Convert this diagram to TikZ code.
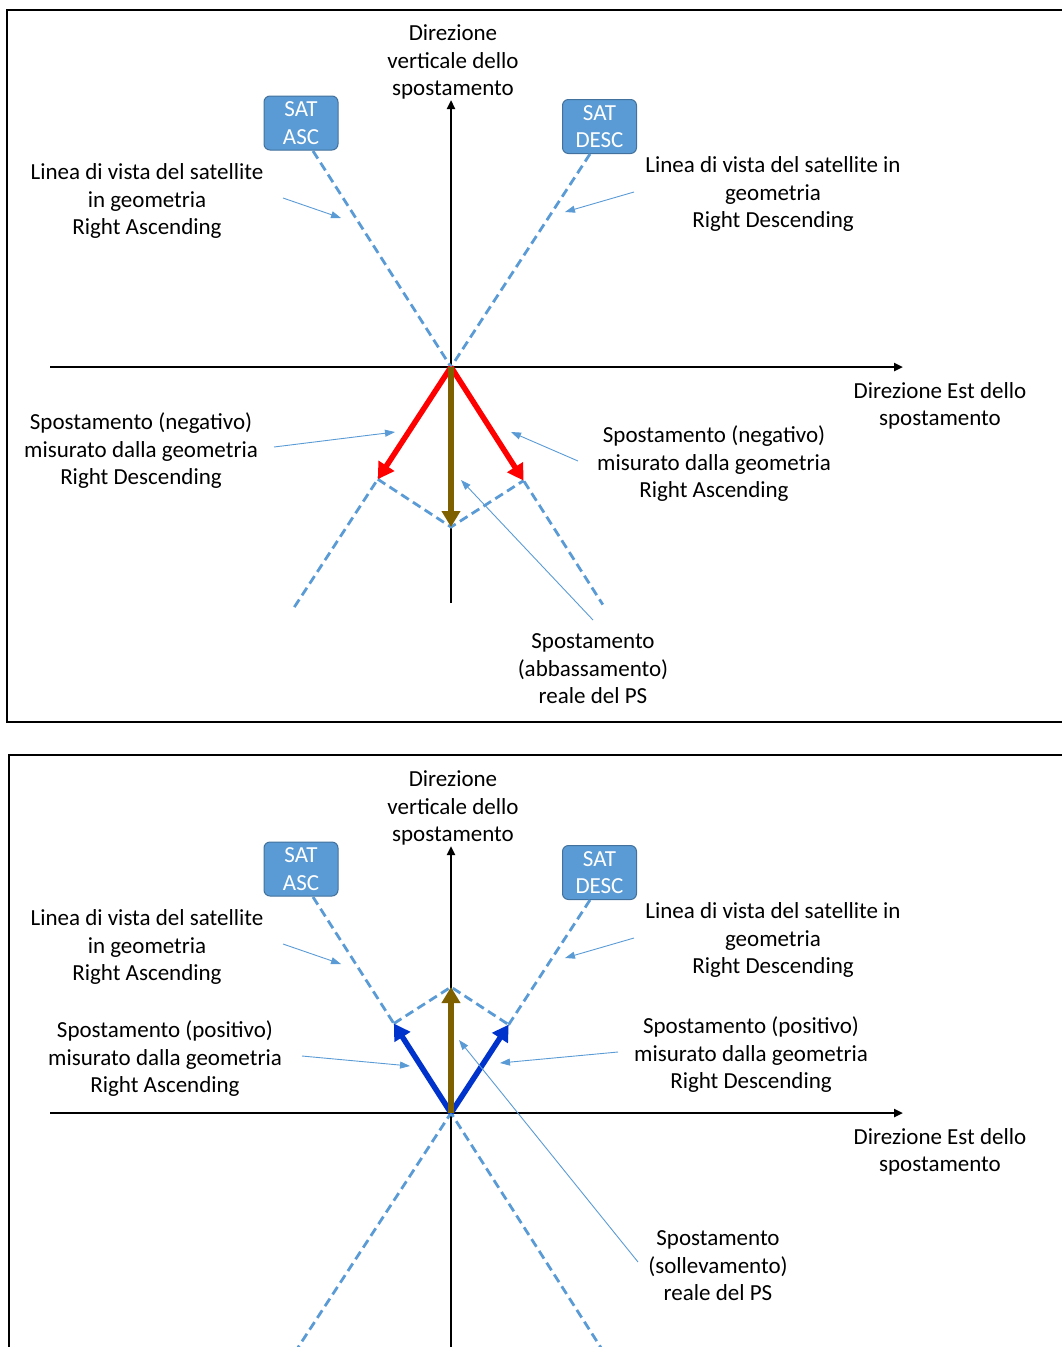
\documentclass[tikz,border=0pt]{standalone}
\usepackage{fontspec}
\setmainfont{Carlito}
\usetikzlibrary{arrows.meta,calc}
\definecolor{losblue}{HTML}{5B9BD5}
\definecolor{boxedge}{HTML}{41719C}
\definecolor{brownarr}{HTML}{7F6000}
\definecolor{bluearr}{HTML}{0033CC}
\tikzset{
  lbl/.style={align=center, font=\fontsize{23}{27.5}\selectfont, inner sep=0pt},
  sat/.style={draw=boxedge, line width=1pt, fill=losblue, rounded corners=6pt, text=white,
    minimum width=74pt, minimum height=54pt, align=center, inner sep=0pt,
    font=\fontsize{23}{27.5}\selectfont},
  axis/.style={line width=2.6pt, -{Triangle[length=9pt,width=8pt]}},
  los/.style={losblue, line width=2.8pt, dash pattern=on 9pt off 5pt},
  leader/.style={losblue, line width=0.9pt, -{Triangle[length=10pt,width=7pt]}},
  bigarr/.style={line width=5.5pt, -{Triangle[length=16pt,width=18pt]}},
  frame/.style={line width=2pt}
}
\begin{document}
\begin{tikzpicture}[x=1pt,y=-1pt]
\useasboundingbox (0,0) rectangle (1062,1347);
% ================= TOP PANEL =================
\draw[frame] (1062,10) -- (7,10) -- (7,722) -- (1062,722);
\coordinate (O) at (451,367);
\node[sat] (asc) at (301,123) {SAT\\ASC};
\node[sat] (desc) at (599.5,126.5) {SAT\\DESC};
\coordinate (ascS) at (313,151);
\coordinate (descS) at (590,154);
\coordinate (ascE) at ($(ascS)!2.1!(O)$);
\coordinate (descE) at ($(descS)!2.13!(O)$);
\coordinate (vb) at (451,603);
\coordinate (vt) at (451,100);
\coordinate (hl) at (50,367);
\coordinate (hr) at (903,367);
\draw[axis] (vb) -- (vt);
\draw[axis] (hl) -- (hr);
\draw[los] (ascS) -- (ascE);
\draw[los] (descS) -- (descE);
\coordinate (T) at (451,527);
\coordinate (PD) at ($(O)!(T)!(descE)$);
\coordinate (PA) at ($(O)!(T)!(ascE)$);
\draw[los] (PD) -- (T) -- (PA);
\draw[bigarr, red] (O) -- (PD);
\draw[bigarr, red] (O) -- (PA);
\draw[bigarr, brownarr] (O) -- (T);
\node[lbl] (dv) at (453,62) {Direzione\\verticale dello\\spostamento};
\node[lbl] (la) at (147,201) {Linea di vista del satellite\\in geometria\\Right Ascending};
\node[lbl] (ld) at (773,194) {Linea di vista del satellite in\\geometria\\Right Descending};
\node[lbl] (de) at (940,406) {Direzione Est dello\\spostamento};
\node[lbl] (sn1) at (141,451) {Spostamento (negativo)\\misurato dalla geometria\\Right Descending};
\node[lbl] (sn2) at (714,464) {Spostamento (negativo)\\misurato dalla geometria\\Right Ascending};
\node[lbl] (sr) at (593,669) {Spostamento\\(abbassamento)\\reale del PS};
\coordinate (l1a) at (283,198); \coordinate (l1b) at (341,218);
\coordinate (l2a) at (634,192); \coordinate (l2b) at (565,212);
\coordinate (l3a) at (274,447); \coordinate (l3b) at (395,432);
\coordinate (l4a) at (578,461); \coordinate (l4b) at (511,432);
\coordinate (l5a) at (593,620); \coordinate (l5b) at (461,480);
\draw[leader] (l1a) -- (l1b);
\draw[leader] (l2a) -- (l2b);
\draw[leader] (l3a) -- (l3b);
\draw[leader] (l4a) -- (l4b);
\draw[leader] (l5a) -- (l5b);
% ================= BOTTOM PANEL =================
\draw[frame] (1062,755) -- (9,755) -- (9,1347);
\coordinate (Q) at (451,1113);
\node[sat] (asc2) at (301,869) {SAT\\ASC};
\node[sat] (desc2) at (599.5,872.5) {SAT\\DESC};
\coordinate (ascS2) at (313,897);
\coordinate (descS2) at (590,900);
\coordinate (ascE2) at ($(ascS2)!2.1!(Q)$);
\coordinate (descE2) at ($(descS2)!2.1!(Q)$);
\coordinate (wb) at (451,1347);
\coordinate (wt) at (451,846);
\coordinate (gl) at (50,1113);
\coordinate (gr) at (903,1113);
\draw[axis] (wb) -- (wt);
\draw[axis] (gl) -- (gr);
\begin{scope}
\clip (0,0) rectangle (1062,1347);
\draw[los] (ascS2) -- (ascE2);
\draw[los] (descS2) -- (descE2);
\end{scope}
\coordinate (U) at (451,987);
\coordinate (QA) at ($(Q)!(U)!(ascS2)$);
\coordinate (QD) at ($(Q)!(U)!(descS2)$);
\draw[los] (QA) -- (U) -- (QD);
\draw[bigarr, bluearr] (Q) -- (QA);
\draw[bigarr, bluearr] (Q) -- (QD);
\draw[bigarr, brownarr] (Q) -- (U);
\node[lbl] (dv2) at (453,808) {Direzione\\verticale dello\\spostamento};
\node[lbl] (la2) at (147,947) {Linea di vista del satellite\\in geometria\\Right Ascending};
\node[lbl] (ld2) at (773,940) {Linea di vista del satellite in\\geometria\\Right Descending};
\node[lbl] (de2) at (940,1152) {Direzione Est dello\\spostamento};
\node[lbl] (sp1) at (165,1059) {Spostamento (positivo)\\misurato dalla geometria\\Right Ascending};
\node[lbl] (sp2) at (751,1055) {Spostamento (positivo)\\misurato dalla geometria\\Right Descending};
\node[lbl] (sr2) at (718,1266) {Spostamento\\(sollevamento)\\reale del PS};
\coordinate (m1a) at (283,944); \coordinate (m1b) at (341,964);
\coordinate (m2a) at (634,938); \coordinate (m2b) at (565,958);
\coordinate (m3a) at (302,1056); \coordinate (m3b) at (410,1066);
\coordinate (m4a) at (618,1052); \coordinate (m4b) at (500,1063);
\coordinate (m5a) at (638,1262); \coordinate (m5b) at (459,1040);
\draw[leader] (m1a) -- (m1b);
\draw[leader] (m2a) -- (m2b);
\draw[leader] (m3a) -- (m3b);
\draw[leader] (m4a) -- (m4b);
\draw[leader] (m5a) -- (m5b);
\end{tikzpicture}
\end{document}
